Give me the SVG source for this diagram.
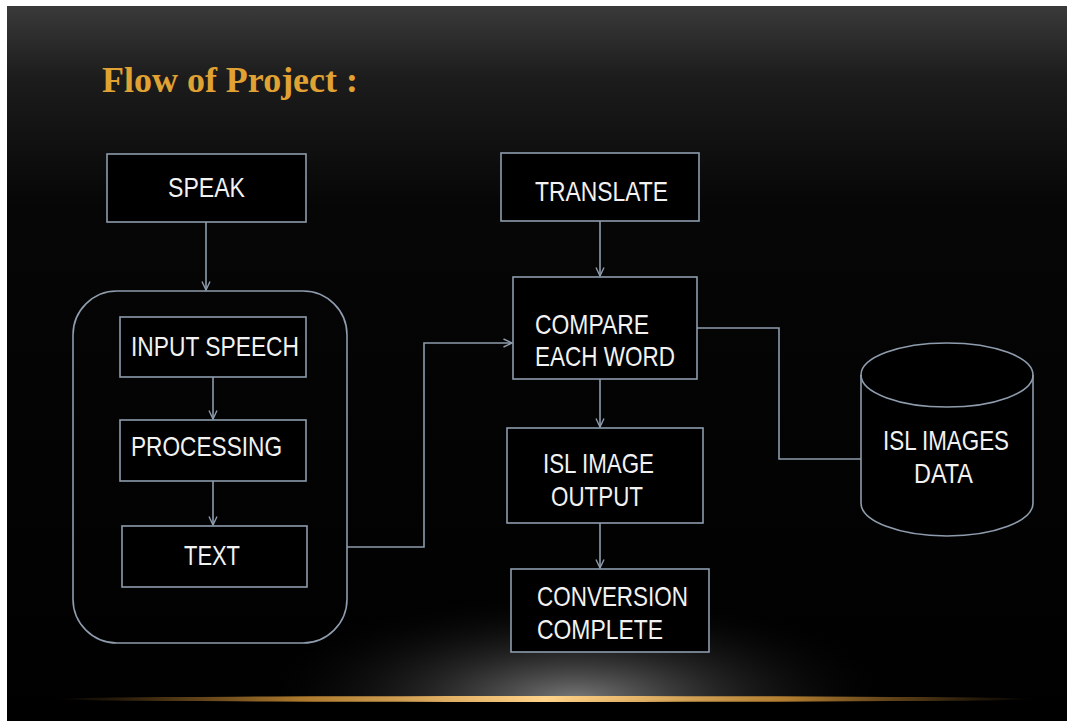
<svg xmlns="http://www.w3.org/2000/svg" width="1067" height="721" viewBox="0 0 1067 721">
<defs>
<linearGradient id="bg" x1="0" y1="0" x2="0" y2="1">
<stop offset="0" stop-color="#3a3a3a"/>
<stop offset="0.1" stop-color="#1c1c1c"/>
<stop offset="0.28" stop-color="#060606"/>
<stop offset="1" stop-color="#000"/>
</linearGradient>
<radialGradient id="glow" cx="0.5" cy="0.5" r="0.5">
<stop offset="0" stop-color="#7a7a7a" stop-opacity="1"/>
<stop offset="0.45" stop-color="#333" stop-opacity="0.7"/>
<stop offset="1" stop-color="#000" stop-opacity="0"/>
</radialGradient>
<linearGradient id="gold" x1="0" y1="0" x2="1" y2="0">
<stop offset="0" stop-color="#c08030" stop-opacity="0"/>
<stop offset="0.25" stop-color="#d89838" stop-opacity="0.8"/>
<stop offset="0.5" stop-color="#ffd38a" stop-opacity="1"/>
<stop offset="0.75" stop-color="#d89838" stop-opacity="0.8"/>
<stop offset="1" stop-color="#c08030" stop-opacity="0"/>
</linearGradient>
<marker id="arr" viewBox="0 0 10 10" refX="9.5" refY="5" markerWidth="10" markerHeight="10" markerUnits="userSpaceOnUse" orient="auto">
<path d="M1,1 L9.5,5 L1,9" fill="none" stroke="#8e9cad" stroke-width="1.4"/>
</marker>
<style>
.box{fill:#000;stroke:#8e9cad;stroke-width:1.6}
.grp{fill:none;stroke:#8e9cad;stroke-width:1.6}
.lbl{font-family:"Liberation Sans",Arial,sans-serif;font-size:28px;fill:#f2f2f2}
.con{fill:none;stroke:#8e9cad;stroke-width:1.6}
</style>
</defs>
<rect x="0" y="0" width="1067" height="721" fill="#fff"/>
<rect x="7" y="6" width="1060" height="715" fill="url(#bg)"/>
<ellipse cx="575" cy="700" rx="330" ry="110" fill="url(#glow)"/>
<rect x="7" y="700" width="1060" height="21" fill="#000"/>
<ellipse cx="545" cy="699" rx="490" ry="3" fill="url(#gold)"/>
<text x="102" y="92" font-family="Liberation Serif,'Times New Roman',serif" font-weight="bold" font-size="36" fill="#e0a232" textLength="256" lengthAdjust="spacingAndGlyphs">Flow of Project :</text>

<g id="group">
<rect class="grp" x="73" y="291" width="274" height="352" rx="44" ry="44"/>
</g>
<g id="speak">
<rect class="box" x="107" y="154" width="199" height="68"/>
<text class="lbl" x="168" y="197" textLength="77" lengthAdjust="spacingAndGlyphs">SPEAK</text>
</g>
<g id="input-speech">
<rect class="box" x="120" y="317" width="186" height="60"/>
<text class="lbl" x="131" y="356" textLength="168" lengthAdjust="spacingAndGlyphs">INPUT SPEECH</text>
</g>
<g id="processing">
<rect class="box" x="120" y="420" width="186" height="61"/>
<text class="lbl" x="131" y="456" textLength="151" lengthAdjust="spacingAndGlyphs">PROCESSING</text>
</g>
<g id="text">
<rect class="box" x="122" y="526" width="185" height="61"/>
<text class="lbl" x="184" y="565" textLength="56" lengthAdjust="spacingAndGlyphs">TEXT</text>
</g>
<g id="translate">
<rect class="box" x="501" y="153" width="198" height="68"/>
<text class="lbl" x="535" y="201" textLength="133" lengthAdjust="spacingAndGlyphs">TRANSLATE</text>
</g>
<g id="compare">
<rect class="box" x="513" y="277" width="184" height="102"/>
<text class="lbl" x="535" y="334" textLength="114" lengthAdjust="spacingAndGlyphs">COMPARE</text>
<text class="lbl" x="535" y="366" textLength="140" lengthAdjust="spacingAndGlyphs">EACH WORD</text>
</g>
<g id="isl-image-output">
<rect class="box" x="507" y="428" width="196" height="95"/>
<text class="lbl" x="543" y="473" textLength="111" lengthAdjust="spacingAndGlyphs">ISL IMAGE</text>
<text class="lbl" x="551" y="506" textLength="92" lengthAdjust="spacingAndGlyphs">OUTPUT</text>
</g>
<g id="conversion">
<rect class="box" x="511" y="569" width="198" height="83"/>
<text class="lbl" x="537" y="606" textLength="151" lengthAdjust="spacingAndGlyphs">CONVERSION</text>
<text class="lbl" x="537" y="639" textLength="126" lengthAdjust="spacingAndGlyphs">COMPLETE</text>
</g>
<g id="isl-images-data">
<path class="box" d="M861,375 L861,503 A86,33 0 0 0 1033,503 L1033,375 A86,32 0 0 0 861,375 Z"/>
<path class="con" d="M861,375 A86,32 0 0 0 1033,375"/>
<text class="lbl" x="883" y="450" textLength="126" lengthAdjust="spacingAndGlyphs">ISL IMAGES</text>
<text class="lbl" x="914" y="483" textLength="59" lengthAdjust="spacingAndGlyphs">DATA</text>
</g>

<g id="connectors">
<line class="con" x1="206" y1="222" x2="206" y2="290" marker-end="url(#arr)"/>
<line class="con" x1="213" y1="377" x2="213" y2="419" marker-end="url(#arr)"/>
<line class="con" x1="213" y1="481" x2="213" y2="525" marker-end="url(#arr)"/>
<polyline class="con" points="347,547 424,547 424,343 512,343" marker-end="url(#arr)"/>
<line class="con" x1="600" y1="221" x2="600" y2="276" marker-end="url(#arr)"/>
<line class="con" x1="600" y1="379" x2="600" y2="427" marker-end="url(#arr)"/>
<line class="con" x1="600" y1="523" x2="600" y2="568" marker-end="url(#arr)"/>
<polyline class="con" points="697,328 779,328 779,459 861,459"/>
</g>
</svg>
